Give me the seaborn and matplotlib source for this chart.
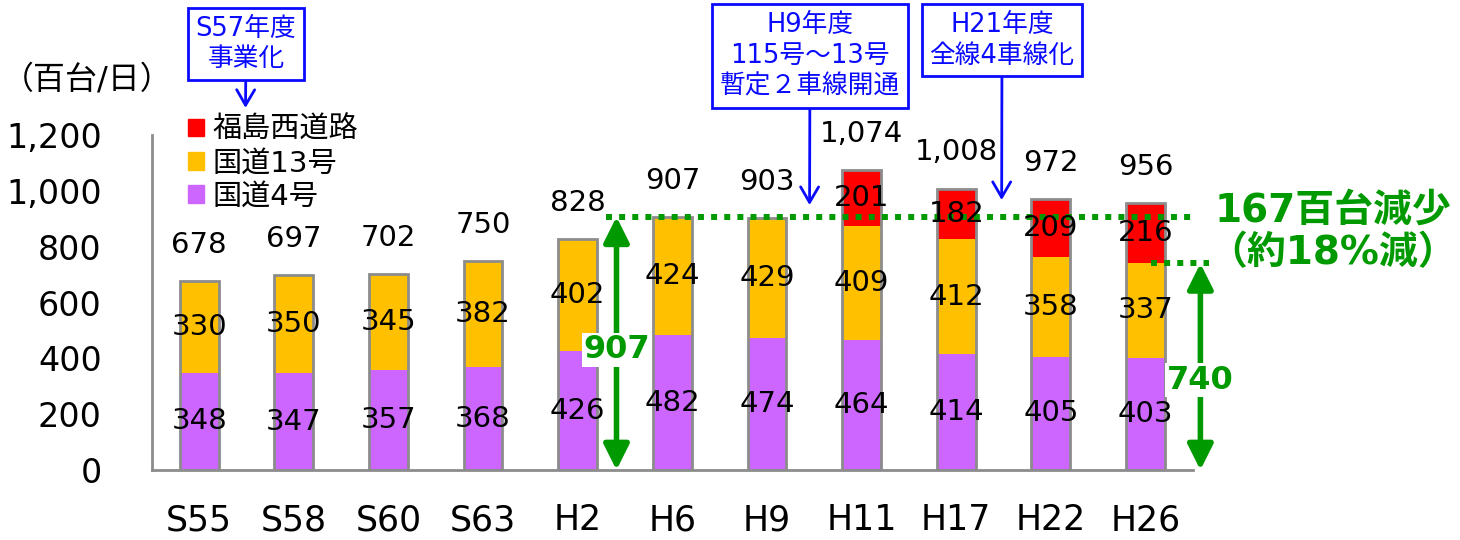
import matplotlib
matplotlib.use('Agg')
import matplotlib.pyplot as plt
import seaborn as sns
from matplotlib.patches import Patch

# 交通量（百台/日）
years = ['S55', 'S58', 'S60', 'S63', 'H2', 'H6', 'H9', 'H11', 'H17', 'H22', 'H26']
route4 = [348, 347, 357, 368, 426, 482, 474, 464, 414, 405, 403]
route13 = [330, 350, 345, 382, 402, 424, 429, 409, 412, 358, 337]
nishi = [0, 0, 0, 0, 0, 0, 0, 201, 182, 209, 216]
totals = [678, 697, 702, 750, 828, 907, 903, 1074, 1008, 972, 956]

c4 = '#CC66FF'
c13 = '#FFC000'
cn = '#FF0000'
blue = '#0A0AFF'
green = '#009A00'
grey = '#8C8C8C'

sns.set_theme(style='white')
plt.rcParams['font.family'] = ['DejaVu Sans', 'Noto Sans CJK JP']
plt.rcParams['text.color'] = 'black'
plt.rcParams['xtick.color'] = 'black'
plt.rcParams['ytick.color'] = 'black'

fig = plt.figure(figsize=(14.6, 5.4), dpi=100)
ax = fig.add_axes([0.104, 0.1296, 0.713, 0.6204])

bottom13 = route4
bottomN = [a + b for a, b in zip(route4, route13)]
sns.barplot(x=years, y=route4, color=c4, saturation=1, width=0.41,
            errorbar=None, linewidth=0, ax=ax)
sns.barplot(x=years, y=route13, bottom=bottom13, color=c13, saturation=1,
            width=0.41, errorbar=None, linewidth=0, ax=ax)
sns.barplot(x=years, y=nishi, bottom=bottomN, color=cn, saturation=1,
            width=0.41, errorbar=None, linewidth=0, ax=ax)
# outline of whole stack
sns.barplot(x=years, y=totals, fill=False, color=grey, width=0.41,
            errorbar=None, linewidth=2, ax=ax)

# segment labels
for i in range(len(years)):
    ax.text(i, route4[i] / 2, str(route4[i]), ha='center', va='center', fontsize=21)
    ax.text(i, route4[i] + route13[i] / 2, str(route13[i]), ha='center', va='center', fontsize=21)
    if nishi[i] > 0:
        ax.text(i, bottomN[i] + nishi[i] / 2, str(nishi[i]), ha='center', va='center', fontsize=21)
    ax.annotate(f'{totals[i]:,}', xy=(i, totals[i]), xytext=(0, 26), textcoords='offset points',
                ha='center', va='center', fontsize=21, annotation_clip=False)

ax.set_xlim(-0.5, len(years) - 0.5)
ax.set_ylim(0, 1200)
ax.set_yticks(range(0, 1201, 200))
ax.set_yticklabels([f'{v:,}' for v in range(0, 1201, 200)])
ax.set_xticks([k + 0.5 for k in range(-1, len(years))], minor=True)
ax.tick_params(axis='x', which='major', length=0, pad=24, labelsize=25)
ax.tick_params(axis='x', which='minor', length=10, width=2, color=grey, direction='out')
ax.tick_params(axis='y', length=8, width=2, color=grey, direction='out', pad=28, labelsize=24)
ax.set_xlabel('')
ax.set_ylabel('')
for s in ['top', 'right']:
    ax.spines[s].set_visible(False)
for s in ['left', 'bottom']:
    ax.spines[s].set_color(grey)
    ax.spines[s].set_linewidth(2)

fig.text(2 / 1460, 1 - 80 / 540, '（百台/日）', ha='left', va='center', fontsize=23)

handles = [Patch(color=cn, label='福島西道路'), Patch(color=c13, label='国道13号'),
           Patch(color=c4, label='国道4号')]
fig.legend(handles=handles, loc='upper left', bbox_to_anchor=(188 / 1460, 1 - 116 / 540),
           frameon=False, fontsize=21, handlelength=0.55, handleheight=0.55,
           handletextpad=0.3, labelspacing=0.18, borderaxespad=0, borderpad=0)

# blue event boxes
box = dict(boxstyle='square,pad=0.3', fc='white', ec=blue, lw=2)
arw = dict(arrowstyle='->,head_length=0.6,head_width=0.35', color=blue, lw=2, shrinkA=0, shrinkB=0)
ax.annotate('S57年度\n事業化', xy=(0.49, 1297), xytext=(246, 496), textcoords='figure pixels',
            ha='center', va='center', fontsize=18.5, color=blue, bbox=box, arrowprops=arw,
            linespacing=1.25, annotation_clip=False)
ax.annotate('H9年度\n115号～13号\n暫定２車線開通', xy=(6.45, 949), xytext=(810, 484),
            textcoords='figure pixels', ha='center', va='center', fontsize=18.5, color=blue,
            bbox=box, arrowprops=arw, linespacing=1.25, annotation_clip=False)
ax.annotate('H21年度\n全線4車線化', xy=(8.48, 967), xytext=(1002, 500),
            textcoords='figure pixels', ha='center', va='center', fontsize=18.5, color=blue,
            bbox=box, arrowprops=arw, linespacing=1.25, annotation_clip=False)

# green reduction markers
ax.plot([4.30, 10.54], [totals[5], totals[5]], color=green, lw=4.3, ls=(0, (1, 1.2)), clip_on=False)
ax.plot([10.06, 10.67], [740, 740], color=green, lw=4.3, ls=(0, (1, 1.2)), clip_on=False)
dbl = dict(arrowstyle='<|-|>,head_length=0.7,head_width=0.35', color=green, lw=4,
           shrinkA=0, shrinkB=0, mutation_scale=22)
ax.annotate('', xy=(4.41, 0), xytext=(4.41, totals[5]), arrowprops=dbl, annotation_clip=False)
ax.annotate('', xy=(10.58, 0), xytext=(10.58, 740), arrowprops=dbl, annotation_clip=False)
ax.text(4.41, 430, '907', ha='center', va='center', fontsize=23, fontweight='bold', color=green,
        bbox=dict(boxstyle='square,pad=0.05', fc='white', ec='none'))
ax.text(10.58, 322, '740', ha='center', va='center', fontsize=23, fontweight='bold', color=green,
        bbox=dict(boxstyle='square,pad=0.05', fc='white', ec='none'), clip_on=False)
fig.text(1333 / 1460, 1 - 211 / 540, '167百台減少', ha='center', va='center', fontsize=28,
         fontweight='bold', color=green)
fig.text(1333 / 1460, 1 - 253 / 540, '（約18%減）', ha='center', va='center', fontsize=28,
         fontweight='bold', color=green)

fig.savefig('out.png', dpi=100)
